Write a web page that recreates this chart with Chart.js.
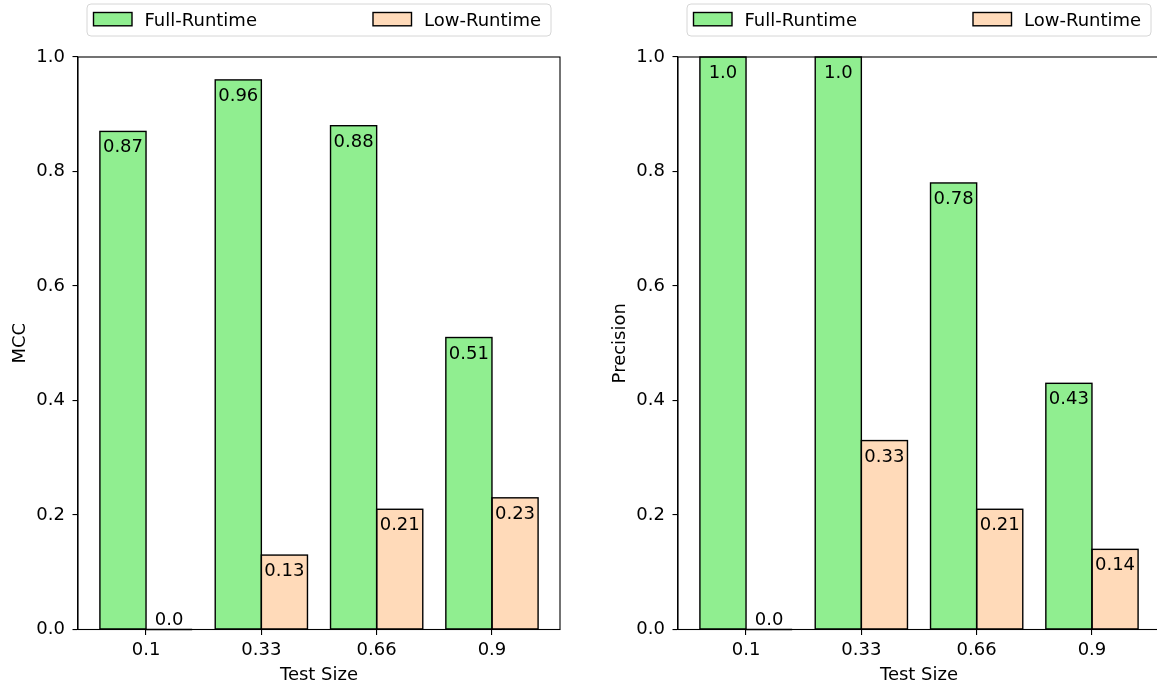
<!DOCTYPE html>
<html><head><meta charset="utf-8">
<script src="https://cdn.jsdelivr.net/npm/chart.js@4.4.0/dist/chart.umd.min.js"></script>
<style>
html,body{margin:0;padding:0;background:#fff;overflow:hidden;width:1157px;height:687px;}
#wrap{position:relative;width:1157px;height:687px;overflow:hidden;background:#fff;}
canvas{position:absolute;top:0;}
</style></head><body>
<div id="wrap">
<canvas id="c1" width="580" height="687" style="left:0px"></canvas>
<canvas id="c2" width="580" height="687" style="left:600px"></canvas>
</div>
<script>
// ---- data ----
const testSizes = ['0.1', '0.33', '0.66', '0.9'];
const seriesNames = ['Full-Runtime', 'Low-Runtime'];
const mccFull = [0.87, 0.96, 0.88, 0.51];
const mccLow = [0.0, 0.13, 0.21, 0.23];
const precFull = [1.0, 1.0, 0.78, 0.43];
const precLow = [0.0, 0.33, 0.21, 0.14];
const yTickValues = [0, 0.2, 0.4, 0.6, 0.8, 1.0];

// ---- style ----
const FONT = "'DejaVu Sans', sans-serif";
const FS = 18;
const GREEN = '#90EE90';
const PEACH = '#FFDAB9';

function fmt(v) { return Number.isInteger(v) ? v.toFixed(1) : String(v); }

const framePlugin = {
  id: 'frame',
  afterDatasetsDraw(chart) {
    const { ctx, chartArea: a } = chart;
    ctx.save();
    // bar edges centred on the bar outlines (single shared edge between neighbours)
    ctx.strokeStyle = '#000';
    ctx.lineWidth = 1.4;
    chart.data.datasets.forEach((ds, di) => {
      const meta = chart.getDatasetMeta(di);
      meta.data.forEach(el => {
        const l = el.x - el.width / 2, t = Math.min(el.y, el.base);
        const h = Math.abs(el.base - el.y);
        ctx.strokeRect(l, t, el.width, h);
      });
    });
    // data labels
    ctx.font = FS + 'px ' + FONT;
    ctx.fillStyle = '#000';
    ctx.textAlign = 'center';
    ctx.textBaseline = 'alphabetic';
    chart.data.datasets.forEach((ds, di) => {
      const meta = chart.getDatasetMeta(di);
      meta.data.forEach((el, i) => {
        const v = ds.data[i].y;
        const y = v > 0 ? el.y + 21 : el.base - 5;
        ctx.fillText(fmt(v), el.x, y);
      });
    });
    // frame (spines)
    ctx.strokeStyle = '#000';
    ctx.lineWidth = 1.1;
    ctx.strokeRect(a.left, a.top, a.right - a.left, a.bottom - a.top);
    ctx.restore();
  },
  afterDraw(chart) {
    const { ctx } = chart;
    ctx.save();
    // legend frame
    const L = 87, R = 551, T = 4, B = 36, r = 4;
    ctx.beginPath();
    ctx.moveTo(L + r, T);
    ctx.lineTo(R - r, T); ctx.quadraticCurveTo(R, T, R, T + r);
    ctx.lineTo(R, B - r); ctx.quadraticCurveTo(R, B, R - r, B);
    ctx.lineTo(L + r, B); ctx.quadraticCurveTo(L, B, L, B - r);
    ctx.lineTo(L, T + r); ctx.quadraticCurveTo(L, T, L + r, T);
    ctx.closePath();
    ctx.fillStyle = 'rgba(255,255,255,0.8)';
    ctx.fill();
    ctx.strokeStyle = '#d6d6d6';
    ctx.lineWidth = 1;
    ctx.stroke();
    const entries = [
      { px: 93.5, tx: 144.5, ds: chart.data.datasets[0] },
      { px: 373, tx: 424, ds: chart.data.datasets[1] }
    ];
    entries.forEach(e => {
      ctx.fillStyle = e.ds.backgroundColor;
      ctx.fillRect(e.px, 12.5, 38.5, 13.3);
      ctx.strokeStyle = '#000';
      ctx.lineWidth = 1.4;
      ctx.strokeRect(e.px, 12.5, 38.5, 13.3);
      ctx.fillStyle = '#000';
      ctx.font = FS + 'px ' + FONT;
      ctx.textAlign = 'left';
      ctx.textBaseline = 'alphabetic';
      ctx.fillText(e.ds.label, e.tx, 26);
    });
    ctx.restore();
  }
};

function makeChart(id, full, low, yTitle) {
  const toPts = arr => arr.map((v, i) => ({ x: i, y: v }));
  return new Chart(document.getElementById(id), {
    type: 'bar',
    data: {
      datasets: [
        { label: seriesNames[0], data: toPts(full), backgroundColor: GREEN, borderWidth: 0 },
        { label: seriesNames[1], data: toPts(low), backgroundColor: PEACH, borderWidth: 0 }
      ]
    },
    options: {
      responsive: false,
      animation: false,
      devicePixelRatio: 1,
      layout: { padding: { left: 0, top: 57, right: 20, bottom: 0 } },
      datasets: { bar: { categoryPercentage: 0.8, barPercentage: 1.0, grouped: true } },
      plugins: { legend: { display: false }, tooltip: { enabled: false } },
      scales: {
        x: {
          type: 'linear',
          offset: false,
          min: -0.59,
          max: 3.59,
          afterBuildTicks: s => { s.ticks = testSizes.map((_, i) => ({ value: i })); },
          afterFit: s => { s.height = 57.5; },
          grid: { display: true, offset: false, drawOnChartArea: false, drawTicks: true, tickLength: 5.5, color: '#000', lineWidth: 1.1 },
          border: { display: true, color: '#000', width: 1.1 },
          ticks: {
            color: '#000', font: { family: FONT, size: FS }, padding: 4.2, maxRotation: 0, autoSkip: false,
            callback: v => testSizes[v]
          },
          title: { display: true, text: 'Test Size', color: '#000', font: { family: FONT, size: FS }, padding: { top: 0, bottom: 1.2 } }
        },
        y: {
          min: 0,
          max: 1,
          afterBuildTicks: s => { s.ticks = yTickValues.map(v => ({ value: v })); },
          afterFit: s => { s.width = 78; },
          grid: { display: true, drawOnChartArea: false, drawTicks: true, tickLength: 5.5, color: '#000', lineWidth: 1.1 },
          border: { display: true, color: '#000', width: 1.1 },
          ticks: { color: '#000', font: { family: FONT, size: FS }, padding: 7.5, callback: v => v.toFixed(1) },
          title: { display: true, text: yTitle, color: '#000', font: { family: FONT, size: FS }, padding: { top: 9.5, bottom: 0 } }
        }
      }
    },
    plugins: [framePlugin]
  });
}

makeChart('c1', mccFull, mccLow, 'MCC');
makeChart('c2', precFull, precLow, 'Precision');
</script>
</body></html>
